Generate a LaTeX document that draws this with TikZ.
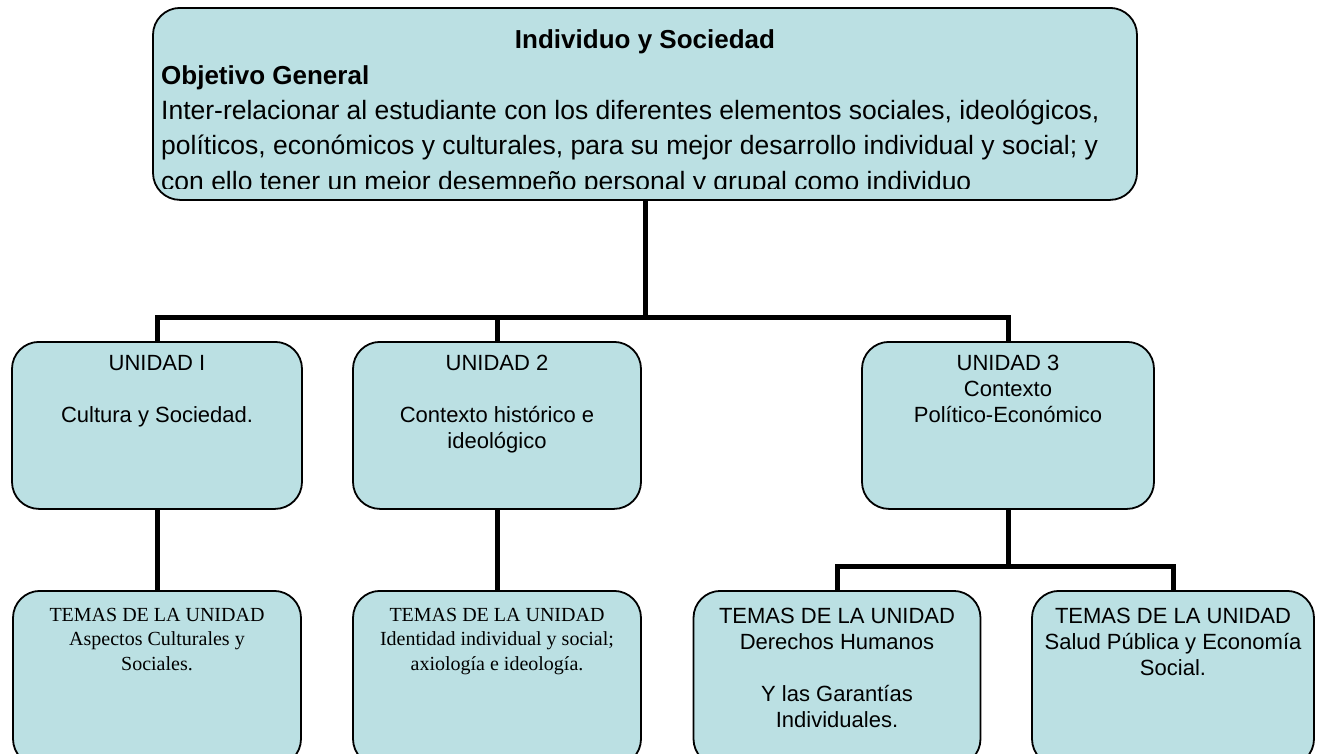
\documentclass[tikz,border=0pt]{standalone}
\usepackage{fontspec}
\usetikzlibrary{calc}
\setmainfont{Liberation Sans}
\newfontfamily\serifo{Liberation Serif}
\definecolor{boxfill}{RGB}{187,224,227}
\begin{document}
\begin{tikzpicture}[x=1pt,y=-1pt,
  box/.style={draw=black,line width=1.8pt,fill=boxfill,rounded corners=27pt,
    minimum width=#1,inner sep=0pt,anchor=north},
  conn/.style={line width=5pt,line join=miter},
  utext/.style={anchor=north,inner sep=0pt,align=center,
    font=\fontsize{22}{26}\selectfont},
  stext/.style={anchor=north,inner sep=0pt,align=center,
    font=\serifo\fontsize{20}{24.5}\selectfont},
  bodyline/.style={anchor=base west,inner sep=0pt,
    font=\fontsize{26.5}{35}\selectfont},
  headline/.style={inner sep=0pt,font=\bfseries\fontsize{26}{30}\selectfont}]
\useasboundingbox (0,0) rectangle (1318,753);
\clip (0,0) rectangle (1318,753);
% top box
\node[box=984pt,minimum height=192pt] (top) at (645,7) {};
\node[headline,anchor=base] (title) at (645,48) {Individuo y Sociedad};
\node[headline,anchor=base west] (obj) at (161,84) {Objetivo General};
\begin{scope}
\clip (153,7) rectangle (1137,188.5);
\node[bodyline] (l1) at (161,119) {Inter-relacionar al estudiante con los diferentes elementos sociales, ideológicos,};
\node[bodyline] (l2) at (161,154.5) {políticos, económicos y culturales, para su mejor desarrollo individual y social; y};
\node[bodyline] (l3) at (161,190) {con ello tener un mejor desempeño personal y grupal como individuo};
\end{scope}
% unit boxes
\node[box=290pt,minimum height=167pt] (u1) at (157,341) {};
\node[box=288pt,minimum height=167pt] (u2) at (497,341) {};
\node[box=292pt,minimum height=167pt] (u3) at (1008,341) {};
\node[utext] (u1t) at ($(u1.north)+(0,14)$) {UNIDAD I\\[26pt]Cultura y Sociedad.};
\node[utext] (u2t) at ($(u2.north)+(0,14)$) {UNIDAD 2\\[26pt]Contexto histórico e\\ideológico};
\node[utext] (u3t) at ($(u3.north)+(0,14)$) {UNIDAD 3\\Contexto\\Político-Económico};
% theme boxes
\node[box=288pt,minimum height=175pt] (t1) at (157,590) {};
\node[box=288pt,minimum height=175pt] (t2) at (497,590) {};
\node[box=287pt,minimum height=175pt] (t3) at (837,590) {};
\node[box=282pt,minimum height=175pt] (t4) at (1173,590) {};
\node[stext] (t1t) at ($(t1.north)+(0,18)$) {TEMAS DE LA UNIDAD\\Aspectos Culturales y\\Sociales.};
\node[stext] (t2t) at ($(t2.north)+(0,18)$) {TEMAS DE LA UNIDAD\\Identidad individual y social;\\axiología e ideología.};
\node[utext] (t3t) at ($(t3.north)+(0,18)$) {TEMAS DE LA UNIDAD\\Derechos Humanos\\[26pt]Y las Garantías\\Individuales.};
\node[utext] (t4t) at ($(t4.north)+(0,18)$) {TEMAS DE LA UNIDAD\\Salud Pública y Economía\\Social.};
% connectors
\coordinate (bus1) at (645,317);
\coordinate (bus2) at (1008,566);
\draw[conn] (top.south) -- (bus1);
\draw[conn] (u1.north) |- (bus1) -| (u3.north);
\draw[conn] (u2.north) -- (u2.north |- bus1);
\draw[conn] (u1.south) -- (t1.north);
\draw[conn] (u2.south) -- (t2.north);
\draw[conn] (u3.south) -- (bus2);
\draw[conn] (t3.north) |- (bus2) -| (t4.north);
\end{tikzpicture}
\end{document}
